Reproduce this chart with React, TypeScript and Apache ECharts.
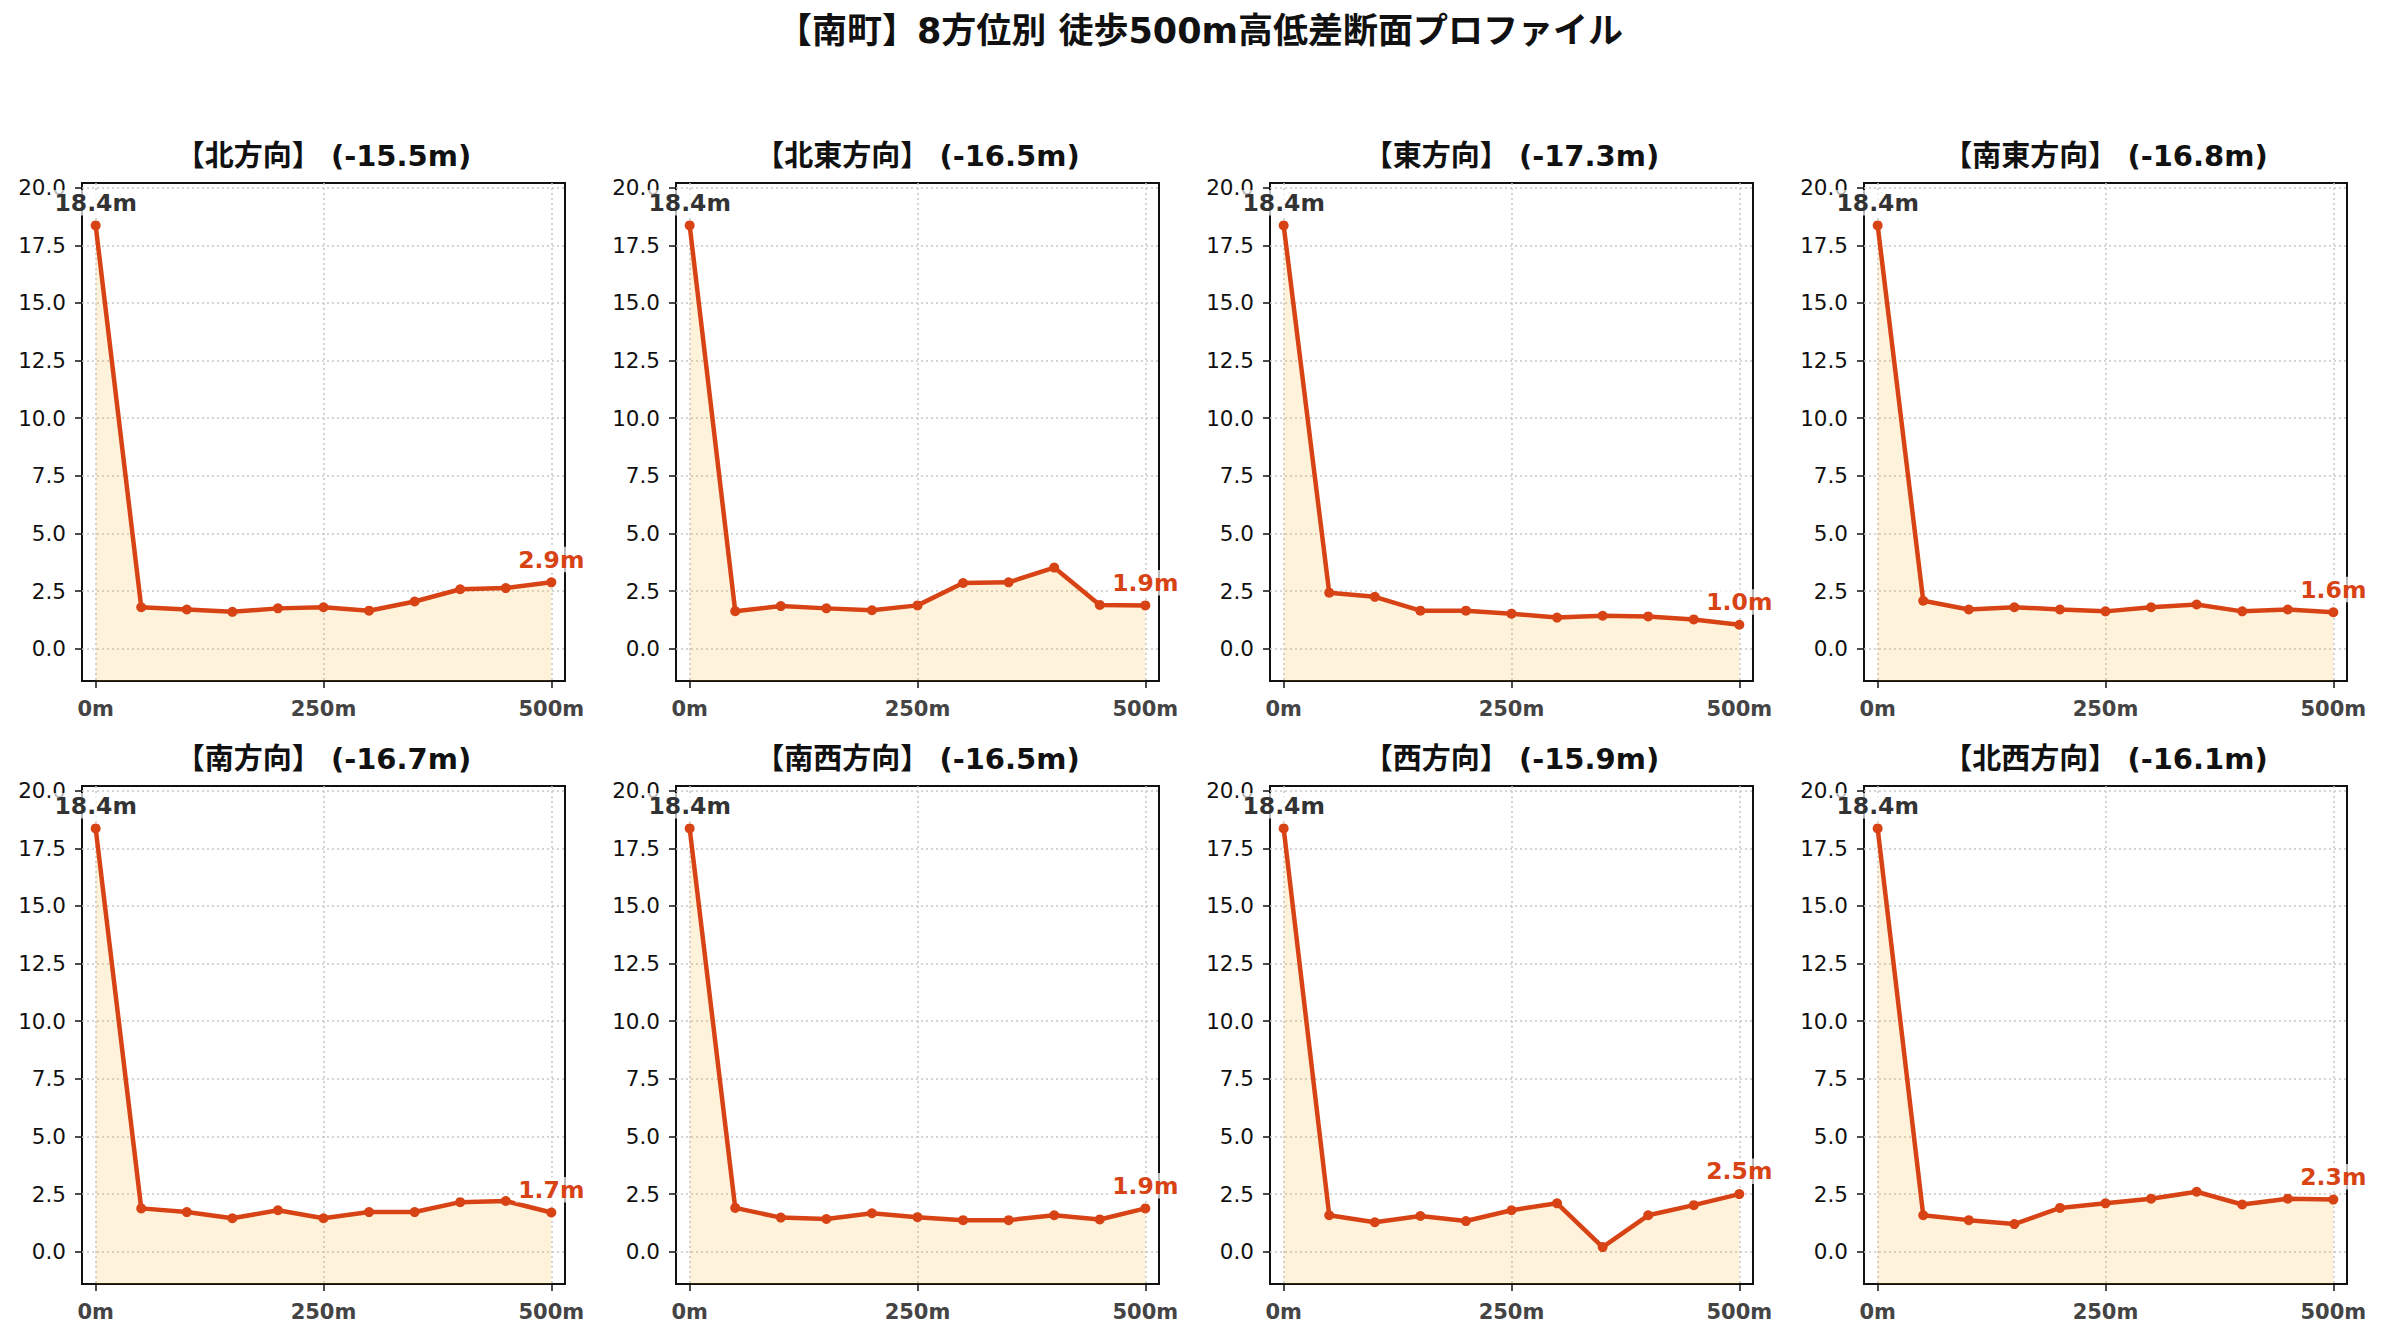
import React, { useEffect, useRef } from "react";
import * as echarts from "echarts";

// 距離 (m)
const distances = [0, 50, 100, 150, 200, 250, 300, 350, 400, 450, 500];
const xTicks = [0, 250, 500];
const yTicks = [0, 2.5, 5, 7.5, 10, 12.5, 15, 17.5, 20];

const mainTitle = "【南町】8方位別 徒歩500m高低差断面プロファイル";
const panelTitles = [
  "【北方向】 (-15.5m)",
  "【北東方向】 (-16.5m)",
  "【東方向】 (-17.3m)",
  "【南東方向】 (-16.8m)",
  "【南方向】 (-16.7m)",
  "【南西方向】 (-16.5m)",
  "【西方向】 (-15.9m)",
  "【北西方向】 (-16.1m)",
];

// 標高 (m)
const north = [18.36, 1.8, 1.7, 1.6, 1.75, 1.8, 1.65, 2.05, 2.58, 2.63, 2.88];
const northEast = [18.36, 1.63, 1.85, 1.75, 1.67, 1.88, 2.85, 2.88, 3.52, 1.9, 1.88];
const east = [18.36, 2.43, 2.25, 1.65, 1.65, 1.52, 1.35, 1.43, 1.4, 1.27, 1.04];
const southEast = [18.36, 2.08, 1.7, 1.8, 1.7, 1.62, 1.8, 1.92, 1.62, 1.7, 1.58];
const south = [18.36, 1.88, 1.72, 1.45, 1.8, 1.45, 1.72, 1.72, 2.15, 2.2, 1.7];
const southWest = [18.36, 1.9, 1.48, 1.42, 1.67, 1.5, 1.37, 1.37, 1.58, 1.4, 1.88];
const west = [18.36, 1.58, 1.28, 1.55, 1.33, 1.8, 2.1, 0.2, 1.58, 2.02, 2.5];
const northWest = [18.36, 1.58, 1.37, 1.2, 1.9, 2.1, 2.3, 2.6, 2.05, 2.3, 2.26];

const profiles = [north, northEast, east, southEast, south, southWest, west, northWest];

const FONT = "'DejaVu Sans', 'Noto Sans CJK JP', sans-serif";
const LINE_COLOR = "#D84315";

const colLefts = [82, 676, 1270, 1864];
const rowTops = [183, 786];
const gridW = 483;
const gridH = 498;

const App: React.FC = () => {
  const chartRef = useRef<HTMLDivElement>(null);

  useEffect(() => {
    if (!chartRef.current) return;
    const chart = echarts.init(chartRef.current, undefined, { renderer: "svg" });

    const grids: any[] = [];
    const xAxes: any[] = [];
    const yAxes: any[] = [];
    const series: any[] = [];
    const graphics: any[] = [
      {
        type: "text",
        x: 1200,
        y: 31,
        style: {
          text: mainTitle,
          align: "center",
          verticalAlign: "middle",
          fontFamily: FONT,
          fontSize: 35,
          fontWeight: "bold",
          fill: "#111",
        },
      },
    ];

    profiles.forEach((values, i) => {
      const left = colLefts[i % 4];
      const top = rowTops[Math.floor(i / 4)];
      grids.push({
        left,
        top,
        width: gridW,
        height: gridH,
        show: true,
        borderColor: "#111",
        borderWidth: 2,
        backgroundColor: "transparent",
      });
      xAxes.push({
        type: "value",
        gridIndex: i,
        min: -15,
        max: 515,
        position: "bottom",
        axisLine: { show: false, onZero: false },
        axisTick: {
          show: true,
          customValues: xTicks,
          length: 7,
          lineStyle: { color: "#111", width: 1.5 },
        },
        axisLabel: {
          customValues: xTicks,
          formatter: (v: number) => `${v}m`,
          margin: 17,
          fontFamily: FONT,
          fontSize: 21,
          fontWeight: "bold",
          color: "#444",
        },
        splitLine: {
          show: true,
          lineStyle: { color: "#c8c8c8", type: [2, 3], width: 1.5 },
        },
      });
      yAxes.push({
        type: "value",
        gridIndex: i,
        min: -1.4,
        max: 20.2,
        position: "left",
        axisLine: { show: false, onZero: false },
        axisTick: {
          show: true,
          customValues: yTicks,
          length: 7,
          lineStyle: { color: "#111", width: 1.5 },
        },
        axisLabel: {
          customValues: yTicks,
          formatter: (v: number) => v.toFixed(1),
          margin: 16,
          fontFamily: FONT,
          fontSize: 21.5,
          color: "#111",
        },
        splitLine: {
          show: true,
          lineStyle: { color: "#c8c8c8", type: [2, 3], width: 1.5 },
        },
      });

      const last = values.length - 1;
      const data = values.map((v, j) => {
        const item: any = { value: [distances[j], v] };
        if (j === 0 || j === last) {
          item.label = {
            show: true,
            color: j === 0 ? "#333" : LINE_COLOR,
          };
        }
        return item;
      });

      series.push({
        type: "line",
        xAxisIndex: i,
        yAxisIndex: i,
        data,
        symbol: "circle",
        symbolSize: 10,
        lineStyle: { color: LINE_COLOR, width: 4.5 },
        itemStyle: { color: LINE_COLOR },
        areaStyle: { color: "rgba(255,165,0,0.2)", origin: "start" },
        label: {
          show: false,
          position: "top",
          distance: 5,
          formatter: (p: any) => `${p.value[1].toFixed(1)}m`,
          fontFamily: FONT,
          fontSize: 23.5,
          fontWeight: "bold",
          backgroundColor: "rgba(255,255,255,0.7)",
          padding: [1, 3],
        },
        z: 3,
      });

      graphics.push({
        type: "text",
        x: left + gridW / 2,
        y: top - 27,
        style: {
          text: panelTitles[i],
          align: "center",
          verticalAlign: "middle",
          fontFamily: FONT,
          fontSize: 29,
          fontWeight: "bold",
          fill: "#111",
        },
      });
    });

    chart.setOption({
      animation: false,
      backgroundColor: "#fff",
      grid: grids,
      xAxis: xAxes,
      yAxis: yAxes,
      series,
      graphic: graphics,
    });

    return () => {
      chart.dispose();
    };
  }, []);

  return (
    <div
      ref={chartRef}
      style={{
        position: "fixed",
        left: 0,
        top: 0,
        width: "2381px",
        height: "1340px",
      }}
    />
  );
};

export default App;
